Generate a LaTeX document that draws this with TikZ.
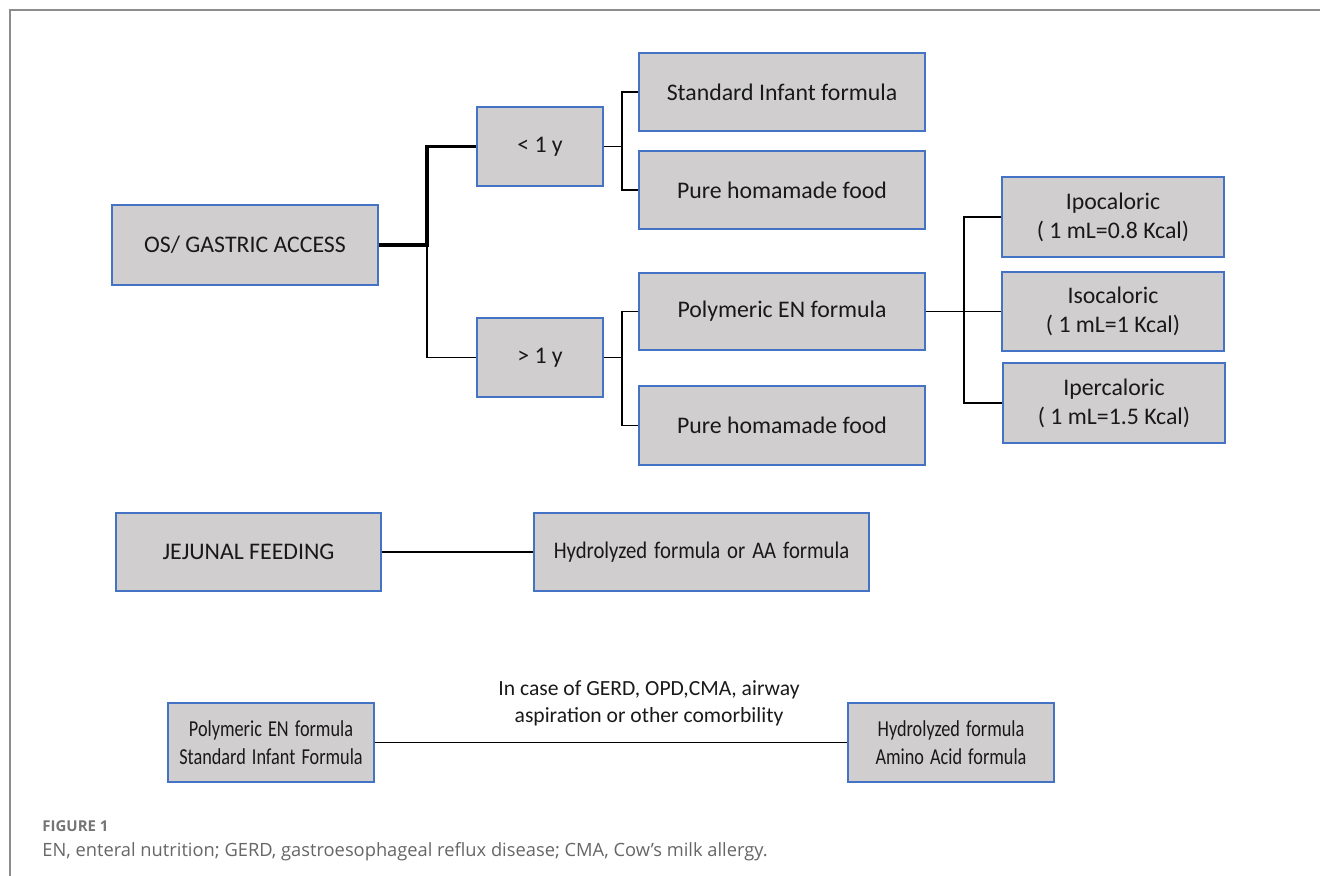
\documentclass[tikz,border=0pt]{standalone}
\usepackage{fontspec}
\setmainfont{Carlito}
\newfontfamily\capfont{Open Sans}
\definecolor{boxgray}{HTML}{D0CECE}
\definecolor{boxblue}{HTML}{4472C4}
\definecolor{framegray}{HTML}{8C8C8C}
\definecolor{captxt}{HTML}{666666}
\newcommand{\cond}[2]{\scalebox{#1}[1]{#2}}
\begin{document}
\begin{tikzpicture}[x=0.5pt,y=-0.5pt,
  box/.style={draw=boxblue, fill=boxgray, line width=0.7pt, inner sep=0pt, align=center,
    font=\fontsize{11.9}{14.5}\selectfont, text=black!90},
  smallbox/.style={box, font=\fontsize{11.4}{14}\selectfont},
  conn/.style={line width=0.8pt, black},
  thickconn/.style={line width=1.6pt, black}]
\useasboundingbox (0,0) rectangle (1320,876);
\draw[framegray, line width=1pt] (10,876) -- (10,10) -- (1320,10);

% nodes
\node[box, minimum width=133pt, minimum height=40pt] (os) at (245,245) {OS/ GASTRIC ACCESS};
\node[box, minimum width=63pt, minimum height=39.5pt] (lt) at (540,146.5) {< 1 y};
\node[box, minimum width=63pt, minimum height=39.5pt] (gt) at (540,357.5) {> 1 y};
\node[box, minimum width=143pt, minimum height=39pt] (sif) at (782,92) {Standard Infant formula};
\node[box, minimum width=143pt, minimum height=39pt] (phfa) at (782,190) {Pure homamade food};
\node[box, minimum width=143pt, minimum height=38.5pt] (pen) at (782,311.5) {Polymeric EN formula};
\node[box, minimum width=143pt, minimum height=39.5pt] (phfb) at (782,425.5) {Pure homamade food};
\node[box, minimum width=111pt, minimum height=40pt] (ipo) at (1113,217) {Ipocaloric\\( 1 mL=0.8 Kcal)};
\node[box, minimum width=111pt, minimum height=39.5pt] (iso) at (1113,311.5) {Isocaloric\\( 1 mL=1 Kcal)};
\node[box, minimum width=111pt, minimum height=40pt] (iper) at (1114,403) {Ipercaloric\\( 1 mL=1.5 Kcal)};
\node[box, minimum width=132.5pt, minimum height=39pt] (jej) at (248.5,552) {JEJUNAL FEEDING};
\node[box, text width=167.5pt, minimum height=39pt] (hyd) at (701.5,552) {\cond{0.87}{Hydrolyzed formula or AA formula}};
\node[smallbox, text width=103pt, minimum height=39.5pt] (pol) at (271,742.5) {\cond{0.8}{Polymeric EN formula}\\\cond{0.8}{Standard Infant Formula}};
\node[smallbox, text width=103pt, minimum height=39.5pt] (ham) at (951,742.5) {\cond{0.8}{Hydrolyzed formula}\\\cond{0.8}{Amino Acid formula}};
\node[align=center, inner sep=0pt, font=\fontsize{10.8}{13.6}\selectfont, text=black!90] (lbl) at (649,703) {In case of GERD, OPD,CMA, airway\\aspiration or other comorbility};

% connector junctions
\coordinate (j0) at (427,245);
\coordinate (j1) at (622,146.5);
\coordinate (j2) at (622,357.5);
\coordinate (j3) at (964,311.5);

% connectors
\draw[conn] (j0) |- (gt.west);
\draw[thickconn] (os.east) -- (j0) |- (lt.west);
\draw[conn] (lt.east) -- (j1);
\draw[conn] (sif.west) -| (j1) |- (phfa.west);
\draw[conn] (gt.east) -- (j2);
\draw[conn] (pen.west) -| (j2) |- (phfb.west);
\draw[conn] (pen.east) -- (j3) -- (iso.west);
\draw[conn] (ipo.west) -| (j3) |- (iper.west);
\draw[conn] (jej.east) -- (hyd.west);
\draw[conn] (pol.east) -- (ham.west);

% caption
\node[anchor=base west, inner sep=0pt, font=\capfont\bfseries\fontsize{7.5}{9}\selectfont, text=captxt!90] (fig) at (42,831) {FIGURE 1};
\node[anchor=base west, inner sep=0pt, font=\capfont\fontsize{9.15}{11}\selectfont, text=captxt] (cap) at (42,856) {EN, enteral nutrition; GERD, gastroesophageal reflux disease; CMA, Cow’s milk allergy.};
\end{tikzpicture}
\end{document}
